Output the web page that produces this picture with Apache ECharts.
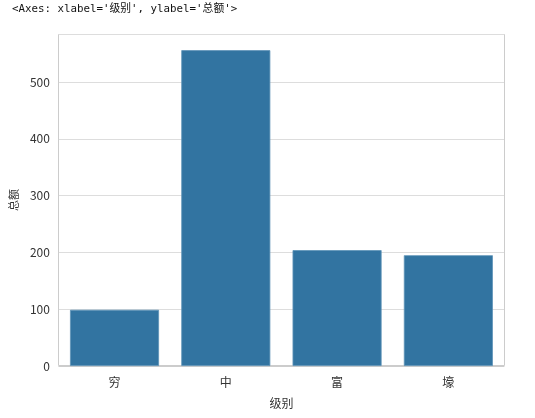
<!DOCTYPE html>
<html><head><meta charset="utf-8">
<script src="https://cdn.jsdelivr.net/npm/echarts@6/dist/echarts.min.js"></script>
<style>html,body{margin:0;padding:0;background:#fff}#c{width:535px;height:418px}</style>
</head><body><div id="c"></div>
<script>
const categories = ['穷', '中', '富', '壕'];
const totals = [99, 556, 204, 195];
const yTicks = [0, 100, 200, 300, 400, 500];
const header = "<Axes: xlabel='级别', ylabel='总额'>";

const chart = echarts.init(document.getElementById('c'), null, {renderer: 'canvas'});
const cjk = "'Noto Sans CJK SC', 'DejaVu Sans', sans-serif";
chart.setOption({
  animation: false,
  backgroundColor: '#fff',
  graphic: [
    {type: 'text', left: 12, top: 4, style: {text: header, font: "10.8px 'DejaVu Sans Mono', 'Noto Sans CJK SC', monospace", fill: '#111'}},
    {type: 'rect', shape: {x: 58.5, y: 34.5, width: 446, height: 331}, style: {fill: 'none', stroke: '#cccccc', lineWidth: 1}, z: 0}
  ],
  grid: {left: 58, right: 31, top: 34, bottom: 52},
  xAxis: {
    type: 'category', data: categories,
    name: '级别', nameLocation: 'middle', nameGap: 31,
    nameTextStyle: {color: '#333', fontSize: 12, fontFamily: cjk},
    axisLine: {show: true, lineStyle: {color: '#cccccc'}},
    axisTick: {show: false},
    axisLabel: {color: '#333', fontSize: 12, margin: 10, fontFamily: cjk},
    splitLine: {show: false}
  },
  yAxis: {
    type: 'value', min: 0, max: 584.5, interval: 100,
    name: '总额', nameLocation: 'middle', nameGap: 35, nameRotate: 90,
    nameTextStyle: {color: '#333', fontSize: 11, fontFamily: cjk},
    axisLine: {show: false},
    axisTick: {show: false},
    axisLabel: {color: '#333', fontSize: 12, margin: 9, fontFamily: cjk,
      formatter: v => yTicks.includes(v) ? String(v) : ''},
    splitLine: {show: true, lineStyle: {color: '#dddddd', width: 1}}
  },
  series: [{
    type: 'bar', data: totals, barCategoryGap: '20%',
    itemStyle: {color: '#3274a1', borderColor: '#5e93b8', borderWidth: 0.8}
  }]
});
</script></body></html>
